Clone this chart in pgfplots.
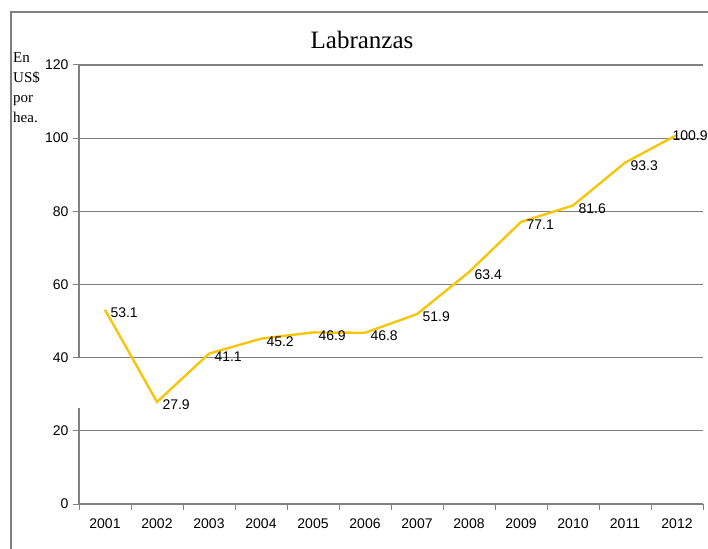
\documentclass[border=0pt]{standalone}
\usepackage{pgfplots}
\pgfplotsset{compat=1.18}
\usepackage{fontspec}
\setmainfont{Liberation Sans}
\newfontfamily\seriffont{Liberation Serif}
\definecolor{gridgray}{RGB}{128,128,128}
\definecolor{linegold}{RGB}{245,198,12}

\begin{document}
\begin{tikzpicture}
\useasboundingbox (0pt,0pt) rectangle (708pt,-548pt);
\clip (0pt,0pt) rectangle (708pt,-548pt);
% outer chart frame (cut off at right and bottom)
\draw[gridgray, line width=1.2pt] (11pt,-560pt) -- (11pt,-12pt) -- (720pt,-12pt);
\node[font=\seriffont\fontsize{25}{25}\selectfont] at (362pt,-40pt) {Labranzas};
\node[font=\seriffont\fontsize{15}{20}\selectfont, anchor=north west, align=left, inner sep=0pt]
  at (13pt,-52pt) {En\\US\$\\por\\hea.};
\begin{axis}[
  at={(79pt,-504pt)}, anchor=south west,
  scale only axis, width=624pt, height=439pt,
  xmin=0.5, xmax=12.5, ymin=0, ymax=120,
  axis lines*=left,
  x axis line style={gridgray, line width=1.2pt},
  y axis line style={draw=none},
  xtick={1,...,12},
  xticklabels={2001,2002,2003,2004,2005,2006,2007,2008,2009,2010,2011,2012},
  minor xtick={0.5,1.5,...,12.5},
  major x tick style={draw=none},
  minor x tick style={gridgray, line width=1pt},
  minor tick length=6pt,
  ytick={0,20,...,120},
  y tick style={gridgray, line width=1pt},
  major tick length=6pt,
  tick align=outside,
  ymajorgrids,
  major grid style={gridgray, line width=1.2pt},
  tick label style={font=\fontsize{14}{14}\selectfont},
  xticklabel style={yshift=-5pt},
  yticklabel style={xshift=-1pt},
  /pgf/number format/assume math mode=true,
  clip=false,
]
\draw[gridgray, line width=1.2pt] (axis cs:0.5,0) -- (axis cs:0.5,26.2);
\draw[gridgray, line width=1.2pt] (axis cs:0.5,40) -- (axis cs:0.5,120);
\addplot[linegold, line width=2.4pt] table {
x y
1 53.1
2 27.9
3 41.1
4 45.2
5 46.9
6 46.8
7 51.9
8 63.4
9 77.1
10 81.6
11 93.3
12 100.9
};
% value labels
\addplot[draw=none, nodes near coords, point meta=explicit symbolic,
  every node near coord/.append style={anchor=west, xshift=2pt, yshift=-3pt,
    text=black, font=\fontsize{14}{14}\selectfont}]
  table[meta=lab] {
x y lab
1 53.1 53.1
2 27.9 27.9
3 41.1 41.1
4 45.2 45.2
5 46.9 46.9
6 46.8 46.8
7 51.9 51.9
8 63.4 63.4
9 77.1 77.1
10 81.6 81.6
11 93.3 93.3
};
\addplot[draw=none, nodes near coords, point meta=explicit symbolic,
  every node near coord/.append style={anchor=west, xshift=-8pt, yshift=-1pt,
    text=black, font=\fontsize{14}{14}\selectfont}]
  table[meta=lab] {
x y lab
12 100.9 100.9
};
\end{axis}
\end{tikzpicture}
\end{document}
